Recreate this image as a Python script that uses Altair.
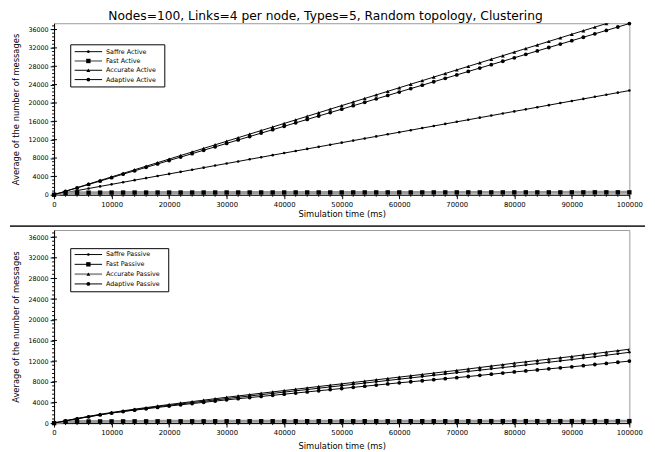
import altair as alt
import pandas as pd

TITLE = "Nodes=100, Links=4 per node, Types=5, Random topology,  Clustering"
X_TITLE = "Simulation time (ms)"
Y_TITLE = "Average of the number of messages"

TIME_MS = list(range(0, 100001, 2000))

SAFFRE_ACTIVE = [0, 450, 910, 1360, 1820, 2270, 2720, 3180, 3630, 4090,
                 4540, 4990, 5450, 5900, 6360, 6810, 7260, 7720, 8170, 8630,
                 9080, 9530, 9990, 10440, 10900, 11350, 11800, 12260, 12710, 13170,
                 13620, 14070, 14530, 14980, 15440, 15890, 16340, 16800, 17250, 17710,
                 18160, 18610, 19070, 19520, 19980, 20430, 20880, 21340, 21790, 22250,
                 22700]
FAST_ACTIVE = [0, 400, 440, 455, 465, 470, 475, 480, 480, 485,
               485, 490, 490, 490, 495, 495, 495, 500, 500, 500,
               500, 505, 505, 505, 505, 505, 510, 510, 510, 510,
               510, 510, 515, 515, 515, 515, 515, 515, 520, 520,
               520, 520, 520, 520, 520, 525, 525, 525, 525, 525,
               525]
ACCURATE_ACTIVE = [0, 780, 1550, 2330, 3110, 3890, 4660, 5440, 6220, 6990,
                   7770, 8550, 9320, 10100, 10880, 11660, 12430, 13210, 13990, 14760,
                   15540, 16320, 17090, 17870, 18650, 19430, 20200, 20980, 21760, 22530,
                   23310, 24090, 24860, 25640, 26420, 27200, 27970, 28750, 29530, 30300,
                   31080, 31860, 32630, 33410, 34190, 34970, 35740, 36520, 37300, 38070,
                   38850]
ADAPTIVE_ACTIVE = [0, 750, 1490, 2240, 2980, 3730, 4480, 5220, 5970, 6710,
                   7460, 8210, 8950, 9700, 10440, 11190, 11940, 12680, 13430, 14170,
                   14920, 15670, 16410, 17160, 17900, 18650, 19400, 20140, 20890, 21630,
                   22380, 23130, 23870, 24620, 25360, 26110, 26860, 27600, 28350, 29090,
                   29840, 30590, 31330, 32080, 32820, 33570, 34320, 35060, 35810, 36550,
                   37300]

SAFFRE_PASSIVE = [0, 430, 860, 1250, 1630, 1970, 2280, 2590, 2880, 3170,
                  3450, 3710, 3970, 4230, 4490, 4750, 5000, 5250, 5500, 5750,
                  6000, 6250, 6500, 6750, 7000, 7250, 7500, 7750, 8000, 8250,
                  8500, 8750, 9000, 9250, 9500, 9750, 10000, 10250, 10500, 10750,
                  11000, 11260, 11520, 11780, 12040, 12300, 12580, 12860, 13140, 13420,
                  13700]
FAST_PASSIVE = [0, 260, 300, 315, 325, 330, 335, 340, 340, 345,
                345, 350, 350, 350, 355, 355, 355, 360, 360, 360,
                360, 365, 365, 365, 365, 365, 370, 370, 370, 370,
                370, 370, 375, 375, 375, 375, 375, 375, 380, 380,
                380, 380, 380, 380, 380, 385, 385, 385, 385, 385,
                385]
ACCURATE_PASSIVE = [0, 450, 900, 1300, 1700, 2050, 2380, 2700, 3000, 3300,
                    3600, 3880, 4160, 4440, 4720, 5000, 5260, 5520, 5780, 6040,
                    6300, 6560, 6820, 7080, 7340, 7600, 7860, 8120, 8380, 8640,
                    8900, 9160, 9420, 9680, 9940, 10200, 10480, 10760, 11040, 11320,
                    11600, 11860, 12120, 12380, 12640, 12900, 13180, 13460, 13740, 14020,
                    14300]
ADAPTIVE_PASSIVE = [0, 420, 830, 1210, 1580, 1950, 2230, 2510, 2770, 3030,
                    3300, 3540, 3780, 4020, 4260, 4500, 4720, 4940, 5160, 5380,
                    5600, 5820, 6040, 6260, 6480, 6700, 6920, 7140, 7360, 7580,
                    7800, 8000, 8200, 8400, 8600, 8800, 9020, 9240, 9460, 9680,
                    9900, 10100, 10300, 10500, 10700, 10900, 11120, 11340, 11560, 11780,
                    12000]

ACTIVE_NAMES = ["Saffre Active", "Fast Active", "Accurate Active", "Adaptive Active"]
ACTIVE_VALUES = [SAFFRE_ACTIVE, FAST_ACTIVE, ACCURATE_ACTIVE, ADAPTIVE_ACTIVE]
PASSIVE_NAMES = ["Saffre Passive", "Fast Passive", "Accurate Passive", "Adaptive Passive"]
PASSIVE_VALUES = [SAFFRE_PASSIVE, FAST_PASSIVE, ACCURATE_PASSIVE, ADAPTIVE_PASSIVE]

X_MAX = 100000
Y_MAX = 37370
X_MAJOR = list(range(0, 100001, 10000))
Y_MAJOR = list(range(0, 36001, 4000))
X_MINOR = list(range(0, 100001, 2000))
Y_MINOR = list(range(0, 37000, 800))

GRAY = "#9a9a9a"
FONT = "DejaVu Sans"
# per series kind: line colour, line width, marker shape, marker size
STYLE = {
    "Saffre": ("black", 1, "circle", 7),
    "Fast": (GRAY, 3, "square", 20),
    "Accurate": ("black", 1, "triangle-up", 16),
    "Adaptive": ("black", 1, "circle", 15),
}

W = 587


def one_row():
    return alt.Data(values=[{"k": 1}])


def panel(names, values, height, legend_box, legend_rows, legend_gray, separator,
          xtitle_pad, title=None):
    xs = alt.Scale(domain=[0, X_MAX], nice=False, zero=False)
    ys = alt.Scale(domain=[0, Y_MAX], nice=False)
    xaxis = alt.Axis(values=X_MAJOR, format="d", title=X_TITLE, labelFontSize=7,
                     titleFontSize=8.5, titleFontWeight="normal", tickSize=4,
                     labelPadding=2, titlePadding=xtitle_pad, grid=False, labelFlush=False,
                     labelOverlap=False)
    yaxis = alt.Axis(values=Y_MAJOR, format="d", title=Y_TITLE, labelFontSize=6.5,
                     titleFontSize=8.5, titleFontWeight="normal", tickSize=4,
                     labelPadding=2, titlePadding=8, grid=False, labelOverlap=False)
    X = alt.X("t:Q", scale=xs, axis=xaxis)
    Y = alt.Y("v:Q", scale=ys, axis=yaxis)

    layers = []
    # minor ticks and inner halves of major ticks
    layers.append(alt.Chart(pd.DataFrame({"v": Y_MINOR})).mark_rule(color="black", strokeWidth=1).encode(
        y=Y, x=alt.value(-2), x2=alt.value(0)))
    layers.append(alt.Chart(pd.DataFrame({"v": Y_MAJOR})).mark_rule(color="black", strokeWidth=1).encode(
        y=Y, x=alt.value(0), x2=alt.value(3)))
    layers.append(alt.Chart(pd.DataFrame({"t": X_MINOR})).mark_rule(color="black", strokeWidth=1).encode(
        x=X, y=alt.value(height), y2=alt.value(height + 2)))

    for name, vals in zip(names, values):
        kind = name.split()[0]
        color, width, shape, size = STYLE[kind]
        clip = kind == "Accurate"
        base = alt.Chart(pd.DataFrame({"t": TIME_MS, "v": vals}))
        layers.append(base.mark_line(color=color, strokeWidth=width, clip=clip).encode(x=X, y=Y))
        layers.append(base.mark_point(shape=shape, size=size, filled=True, color="black",
                                      opacity=1, clip=clip).encode(x=X, y=Y))

    # legend
    bx0, bx1, by0, by1 = legend_box
    layers.append(alt.Chart(one_row()).mark_rect(fill="white", stroke="black", strokeWidth=1).encode(
        x=alt.value(bx0), x2=alt.value(bx1), y=alt.value(by0), y2=alt.value(by1)))
    for name, ry in zip(names, legend_rows):
        kind = name.split()[0]
        color, width, shape, size = STYLE[kind]
        lc = GRAY if name == legend_gray else "black"
        lw = 2 if name == legend_gray else 1
        layers.append(alt.Chart(one_row()).mark_rule(color=lc, strokeWidth=lw).encode(
            x=alt.value(bx0 + 4), x2=alt.value(bx0 + 32), y=alt.value(ry)))
        layers.append(alt.Chart(one_row()).mark_point(shape=shape, size=size, filled=True,
                                                       color="black", opacity=1).encode(
            x=alt.value(bx0 + 18), y=alt.value(ry)))
        layers.append(alt.Chart(one_row()).mark_text(align="left", baseline="middle", fontSize=6.5,
                                                      font=FONT, color="black", text=name).encode(
            x=alt.value(bx0 + 36), y=alt.value(ry)))

    if separator is not None:
        layers.append(alt.Chart(one_row()).mark_rule(color="#333333", strokeWidth=2).encode(
            x=alt.value(-45), x2=alt.value(W + 16), y=alt.value(separator)))

    if title is not None:
        layers.append(alt.Chart(one_row()).mark_text(align="center", baseline="middle",
                                                      fontSize=12.5, font=FONT, color="black",
                                                      text=title).encode(
            x=alt.value(277), y=alt.value(-7)))

    return alt.layer(*layers).properties(width=W, height=height)


top = panel(ACTIVE_NAMES, ACTIVE_VALUES, 175, (17, 113, 22, 65), [29, 38.5, 48, 57.5],
            "Fast Active", 207, 2, TITLE)
bottom = panel(PASSIVE_NAMES, PASSIVE_VALUES, 197, (17, 117, 19, 63), [25, 35, 45, 55],
               "Accurate Passive", None, 6)

chart = alt.vconcat(top, bottom, spacing=1).properties(
    padding={"left": 0, "top": -3, "right": 0, "bottom": 0},
).configure(font=FONT).configure_view(stroke=GRAY, strokeWidth=1).configure_axis(
    domainColor="black", tickColor="black", labelColor="black", titleColor="black",
    labelFont=FONT, titleFont=FONT)

chart.save("out.html", embed_options={"renderer": "svg", "actions": False})
